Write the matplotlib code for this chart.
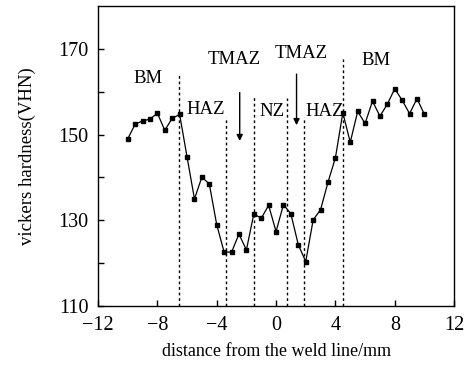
# 용접선 기준 거리에 따른 비커스 경도 분포

import numpy as np
import matplotlib.pyplot as plt

plt.rcParams['font.family'] = ['Liberation Serif', 'DejaVu Serif']

# 측정 위치 (mm)와 경도 값
distance = np.arange(-10, 10.01, 0.5)
hardness = [149.0, 152.4, 153.2, 153.6, 155.0, 151.0, 153.8, 154.7, 144.8, 135.0,
            140.1, 138.5, 129.0, 122.6, 122.6, 126.8, 123.1, 131.5, 130.5, 133.5,
            127.4, 133.7, 131.5, 124.3, 120.4, 130.1, 132.5, 138.9, 144.6, 155.1,
            148.2, 155.4, 152.6, 157.8, 154.3, 157.1, 160.7, 158.0, 154.9, 158.4,
            154.7]

# 영역 경계선 (x 위치, 윗끝 y)
boundary_x = [-6.55, -3.35, -1.5, 0.77, 1.9, 4.53]
boundary_top = [164, 154, 158.7, 158.5, 154, 167.6]

# 영역 이름
zone_labels = ['BM', 'HAZ', 'TMAZ', 'NZ', 'TMAZ', 'HAZ', 'BM']
zone_x = [-8.6, -4.75, -2.84, -0.24, 1.67, 3.25, 6.74]
zone_y = [163.0, 155.9, 167.6, 155.5, 168.8, 155.5, 167.2]

# 화살표 (x, 시작 y, 끝 y)
arrow_x = [-2.45, 1.38]
arrow_start = [159.8, 164.1]
arrow_end = [148.5, 152.2]

fig = plt.figure(figsize=(4.77, 3.72), dpi=100)
ax = fig.add_axes([0.2055, 0.177, 0.7465, 0.807])

ax.plot(distance, hardness, color='black', linewidth=0.9,
        marker='s', markersize=2.3)

for bx, bt in zip(boundary_x, boundary_top):
    ax.plot([bx, bx], [110, bt], color='black', linestyle=(0, (2, 2)), linewidth=1.0)

for lab, zx, zy in zip(zone_labels, zone_x, zone_y):
    ax.text(zx, zy, lab, ha='center', va='center', fontsize=13.5)

for axx, s, e in zip(arrow_x, arrow_start, arrow_end):
    ax.annotate('', xy=(axx, e), xytext=(axx, s),
                arrowprops=dict(arrowstyle='-|>', color='black', lw=1.0,
                                mutation_scale=9, shrinkA=0, shrinkB=0))

ax.set_xlim(-12, 12)
ax.set_ylim(110, 180)
ax.set_xticks(np.arange(-12, 13, 4))
ax.set_xticklabels(['\u221212', '\u22128', '\u22124', '0', '4', '8', '12'])
ax.set_yticks(np.arange(110, 180, 10))
ax.set_yticklabels(['110', '', '130', '', '150', '', '170'])
ax.tick_params(direction='in', length=4, labelsize=14.5, width=1)
ax.tick_params(axis='x', pad=7)
ax.tick_params(axis='y', pad=7)
for sp in ax.spines.values():
    sp.set_linewidth(1.0)

ax.set_xlabel('distance from the weld line/mm', fontsize=13, labelpad=6)
ax.set_ylabel('vickers hardness(VHN)', fontsize=13.5, labelpad=16)

plt.savefig('out.png', dpi=100)
